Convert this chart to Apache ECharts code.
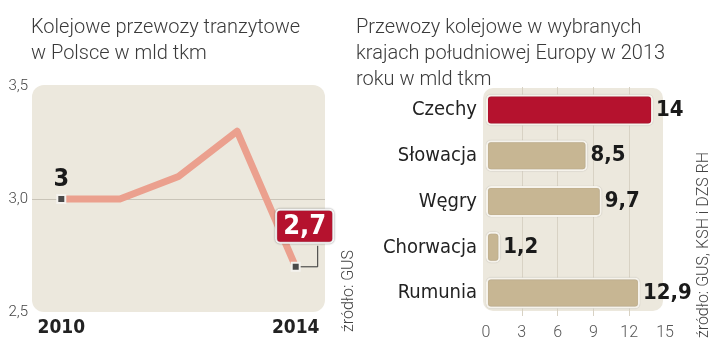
<!DOCTYPE html>
<html>
<head>
<meta charset="utf-8">
<script src="https://cdn.jsdelivr.net/npm/echarts@6/dist/echarts.min.js"></script>
<style>
  html, body { margin: 0; padding: 0; background: #fff; }
  #main { width: 720px; height: 351px; }
</style>
</head>
<body>
<div id="main"></div>
<script>
// dane
const years = ['2010', '2011', '2012', '2013', '2014'];
const transit = [3.0, 3.0, 3.1, 3.3, 2.7];
const countries = ['Czechy', 'Słowacja', 'Węgry', 'Chorwacja', 'Rumunia'];
const freight = [14, 8.5, 9.7, 1.2, 12.9];
const leftTicks = [2.5, 3.0, 3.5];
const rightTicks = [0, 3, 6, 9, 12, 15];

const FONT = '"DejaVu Sans Condensed", "Roboto", sans-serif';
const LIGHT = 'Roboto, "Noto Sans", sans-serif';
const BG = '#ece8dd';
const RED = '#b5122e';
const TAN = '#c7b693';

const comma = (v) => String(v).replace('.', ',');

// siatki
const gridL = { left: 32, top: 86, width: 293, height: 226 };
const gridR = { left: 486, top: 87, width: 179, height: 229 };

const chart = echarts.init(document.getElementById('main'));

const titleStyle = { fontFamily: LIGHT, fontSize: 20, fontWeight: 300, color: '#3a3a3a', lineHeight: 26 };

const option = {
  backgroundColor: '#fff',
  animation: false,
  textStyle: { fontFamily: FONT },
  title: [{
    text: 'Kolejowe przewozy tranzytowe\nw Polsce w mld tkm',
    left: 31, top: 15, padding: 0,
    textStyle: titleStyle
  }, {
    text: 'Przewozy kolejowe w wybranych\nkrajach południowej Europy w 2013\nroku w mld tkm',
    left: 356, top: 15, padding: 0,
    textStyle: titleStyle
  }],
  grid: [
    Object.assign({ containLabel: false }, gridL),
    Object.assign({ containLabel: false }, gridR)
  ],
  xAxis: [{
    gridIndex: 0,
    type: 'category',
    data: years,
    boundaryGap: true,
    axisLine: { show: false },
    axisTick: { show: false },
    axisLabel: {
      interval: (i) => i === 0 || i === years.length - 1,
      fontFamily: FONT, fontSize: 19, fontWeight: 'bold', color: '#222', margin: 7
    }
  }, {
    gridIndex: 1,
    type: 'value',
    min: rightTicks[0], max: rightTicks[rightTicks.length - 1], interval: 3,
    axisLine: { show: false },
    axisTick: { show: false },
    splitLine: { show: true, showMinLine: false, showMaxLine: false, lineStyle: { color: '#d8d2c4', width: 1 } },
    axisLabel: { fontFamily: LIGHT, fontSize: 16, fontWeight: 300, color: '#555', margin: 9 }
  }],
  yAxis: [{
    gridIndex: 0,
    type: 'value',
    min: leftTicks[0], max: leftTicks[leftTicks.length - 1], interval: 0.5,
    axisLine: { show: false },
    axisTick: { show: false },
    splitLine: { show: true, showMinLine: false, showMaxLine: false, lineStyle: { color: '#c9c4b8', width: 1 } },
    axisLabel: {
      formatter: (v) => v.toFixed(1).replace('.', ','),
      fontFamily: LIGHT, fontSize: 15, fontWeight: 300, color: '#444', margin: 4
    }
  }, {
    gridIndex: 1,
    type: 'category',
    data: countries,
    inverse: true,
    axisLine: { show: false },
    axisTick: { show: false },
    axisLabel: { fontFamily: FONT, fontSize: 20, color: '#222', margin: 9 }
  }],
  series: [{
    type: 'line',
    xAxisIndex: 0, yAxisIndex: 0,
    data: transit.map((v, i) => {
      const first = i === 0, last = i === transit.length - 1;
      const item = { value: v, symbol: (first || last) ? 'rect' : 'none' };
      if (first) {
        item.label = {
          show: true, position: 'top', distance: 2,
          formatter: (p) => comma(p.value),
          fontFamily: FONT, fontSize: 25, fontWeight: 'bold', color: '#1a1a1a'
        };
      }
      if (last) {
        item.label = {
          show: true, position: 'top', distance: 20, offset: [9, 0],
          formatter: (p) => comma(p.value),
          fontFamily: FONT, fontSize: 27, fontWeight: 'bold', color: '#fff',
          backgroundColor: RED, borderColor: '#fff', borderWidth: 2, borderRadius: 3,
          padding: [3, 6, 1, 6],
          shadowColor: 'rgba(0,0,0,0.45)', shadowBlur: 2
        };
      }
      return item;
    }),
    symbolSize: 8,
    itemStyle: { color: '#4a4a4a', borderColor: '#f4f2ee', borderWidth: 2 },
    lineStyle: { color: '#eba08e', width: 7, cap: 'round', join: 'round' },
    z: 3
  }, {
    type: 'bar',
    xAxisIndex: 1, yAxisIndex: 1,
    data: freight.map((v, i) => ({
      value: v,
      itemStyle: { color: i === 0 ? RED : TAN }
    })),
    barWidth: 31,
    itemStyle: {
      borderRadius: 4, borderColor: '#f6f3ec', borderWidth: 2,
      shadowColor: 'rgba(0,0,0,0.25)', shadowBlur: 1
    },
    label: {
      show: true, position: 'right', distance: 3,
      formatter: (p) => comma(p.value),
      fontFamily: FONT, fontSize: 22, fontWeight: 'bold', color: '#1a1a1a'
    },
    z: 3
  }],
  graphic: [{
    type: 'rect', z: -10,
    shape: { x: gridL.left, y: gridL.top - 1, width: gridL.width, height: gridL.height + 1, r: 12 },
    style: { fill: BG }
  }, {
    type: 'rect', z: -10,
    shape: { x: gridR.left - 3, y: gridR.top + 1, width: gridR.width + 1, height: gridR.height - 6, r: 10 },
    style: { fill: BG }
  }, {
    type: 'text', z: 5,
    x: 349, y: 291, rotation: Math.PI / 2,
    style: { text: 'źródło: GUS', font: '300 16px ' + LIGHT, fill: '#444', align: 'center', verticalAlign: 'middle' }
  }, {
    type: 'text', z: 5,
    x: 704, y: 245, rotation: Math.PI / 2,
    style: { text: 'źródło: GUS, KSH i DZS RH', font: '300 16px ' + LIGHT, fill: '#444', align: 'center', verticalAlign: 'middle' }
  }]
};

chart.setOption(option);

// łącznik do etykiety 2,7
const p = chart.convertToPixel({ seriesIndex: 0 }, [transit.length - 1, transit[transit.length - 1]]);
chart.setOption({
  graphic: [{
    id: 'connector', type: 'polyline', z: 4,
    shape: { points: [[p[0] + 5, p[1]], [p[0] + 22, p[1]], [p[0] + 22, p[1] - 21]] },
    style: { stroke: '#333', lineWidth: 1, fill: null }
  }]
});
</script>
</body>
</html>
